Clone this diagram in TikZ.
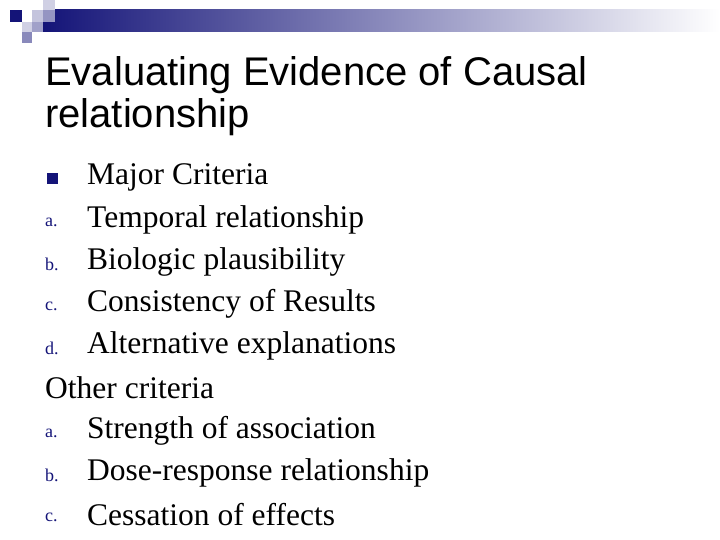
\documentclass[tikz,border=0pt]{standalone}
\usepackage{fontspec}
\setmainfont{Liberation Serif}
\newfontfamily\titlefont{Liberation Sans}
\definecolor{navy}{RGB}{20,20,120}
\begin{document}
\begin{tikzpicture}[x=1pt,y=-1pt,
  body/.style={anchor=west,inner sep=0pt,font=\fontsize{31.5}{34}\selectfont},
  lettermark/.style={anchor=west,inner sep=0pt,text=navy,font=\fontsize{18}{20}\selectfont},
  title/.style={anchor=west,inner sep=0pt,font=\titlefont\fontsize{40}{44}\selectfont}]
\useasboundingbox (0,0) rectangle (720,540);
\shade[left color=navy,right color=white] (43,10) rectangle (720,32);
\fill[navy!20] (43,0) rectangle (55,10);
\fill[navy] (10,10) rectangle (22,22);
\fill[navy!25] (32,10) rectangle (43,22);
\fill[navy!45] (43,10) rectangle (55,22);
\fill[navy!20] (22,22) rectangle (32,32);
\fill[navy!40] (32,22) rectangle (43,32);
\fill[navy!50] (22,32) rectangle (32,43);
\node[title] (t1) at (45,75) {Evaluating Evidence of Causal};
\node[title] (t2) at (45,117) {relationship};
\node[fill=navy,minimum size=11pt,inner sep=0pt] (m0) at (52,179) {};
\node[lettermark] (m1) at (45,222) {a.};
\node[lettermark] (m2) at (45,264) {b.};
\node[lettermark] (m3) at (45,306) {c.};
\node[lettermark] (m4) at (45,348) {d.};
\node[lettermark] (m6) at (45,433) {a.};
\node[lettermark] (m7) at (45,475) {b.};
\node[lettermark] (m8) at (45,517) {c.};
\node[body] (l0) at (87,177) {Major Criteria};
\node[body] (l1) at (87,220) {Temporal relationship};
\node[body] (l2) at (87,262) {Biologic plausibility};
\node[body] (l3) at (87,304) {Consistency of Results};
\node[body] (l4) at (87,346) {Alternative explanations};
\node[body] (l5) at (45,388) {Other criteria};
\node[body] (l6) at (87,431) {Strength of association};
\node[body] (l7) at (87,473) {Dose-response relationship};
\node[body] (l8) at (87,515) {Cessation of effects};
\end{tikzpicture}
\end{document}
